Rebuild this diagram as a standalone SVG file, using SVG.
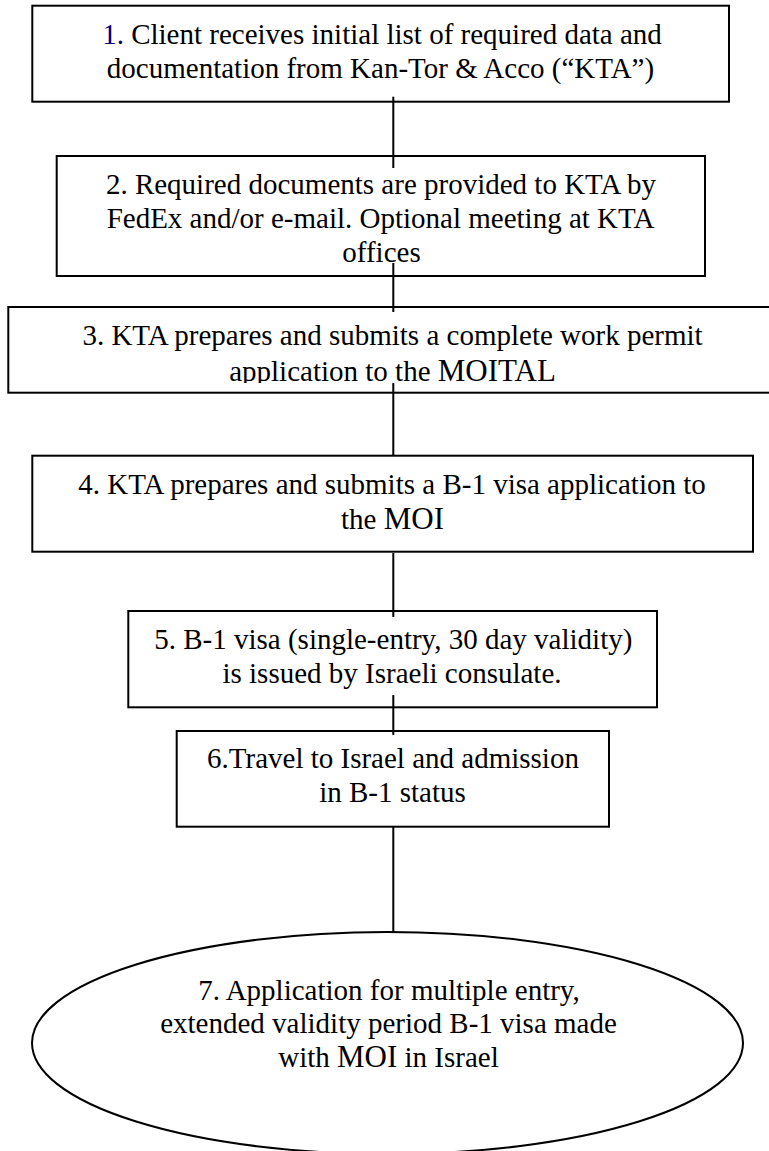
<svg xmlns="http://www.w3.org/2000/svg" width="769" height="1151" viewBox="0 0 769 1151">
<style>
.box{fill:#fff;stroke:#000;stroke-width:2}
.t{font-family:"Liberation Serif","Times New Roman",serif;font-size:29px;fill:#000;text-anchor:middle}
.big{font-size:31px}
.conn line{stroke:#000;stroke-width:2}
</style>
<defs>
<clipPath id="c3"><rect x="8" y="307" width="761" height="76"/></clipPath>
</defs>
<g id="n1">
<rect class="box" x="32.3" y="5.7" width="696.7" height="96"/>
<text class="t" x="382" y="44.3"><tspan fill="#000080">1.</tspan> Client receives initial list of required data and</text>
<text class="t" x="380.5" y="78">documentation from Kan-Tor &amp; Acco (“KTA”)</text>
</g>
<g id="n2">
<rect class="box" x="56.7" y="156" width="648.3" height="120"/>
<text class="t" x="381" y="194">2. Required documents are provided to KTA by</text>
<text class="t" x="380.5" y="228">FedEx and/or e-mail. Optional meeting at KTA</text>
<text class="t" x="381.5" y="262">offices</text>
</g>
<g id="n3">
<rect class="box" x="8.3" y="307" width="770" height="85.7"/>
<g clip-path="url(#c3)">
<text class="t" x="392.5" y="345">3. KTA prepares and submits a complete work permit</text>
<text class="t" x="392.5" y="381">application to the <tspan class="big">MOITAL</tspan></text>
</g>
</g>
<g id="n4">
<rect class="box" x="32.3" y="455.7" width="720.7" height="96"/>
<text class="t" x="392" y="494">4. KTA prepares and submits a B-1 visa application to</text>
<text class="t" x="392.5" y="529">the <tspan class="big">MOI</tspan></text>
</g>
<g id="n5">
<rect class="box" x="128.3" y="611" width="528.7" height="96.3"/>
<text class="t" x="393.3" y="649">5. B-1 visa (single-entry, 30 day validity)</text>
<text class="t" x="392" y="682.7">is issued by Israeli consulate.</text>
</g>
<g id="n6">
<rect class="box" x="176.7" y="731" width="432.3" height="95.7"/>
<text class="t" x="393" y="768.3">6.Travel to Israel and admission</text>
<text class="t" x="392.5" y="801.7">in B-1 status</text>
</g>
<g id="n7">
<ellipse class="box" cx="387.5" cy="1043" rx="355.5" ry="111"/>
<text class="t" x="389" y="1000">7. Application for multiple entry,</text>
<text class="t" x="388.5" y="1033">extended validity period B-1 visa made</text>
<text class="t" x="388.5" y="1067">with <tspan class="big">MOI</tspan> in Israel</text>
</g>
<g id="connectors" class="conn">
<line x1="393.3" y1="96.7" x2="393.3" y2="168"/>
<line x1="393.3" y1="263" x2="393.3" y2="312"/>
<line x1="393.3" y1="383" x2="393.3" y2="455.7"/>
<line x1="393.3" y1="553" x2="393.3" y2="617"/>
<line x1="393.3" y1="695" x2="393.3" y2="735"/>
<line x1="393.3" y1="826.7" x2="393.3" y2="932"/>
</g>
</svg>
